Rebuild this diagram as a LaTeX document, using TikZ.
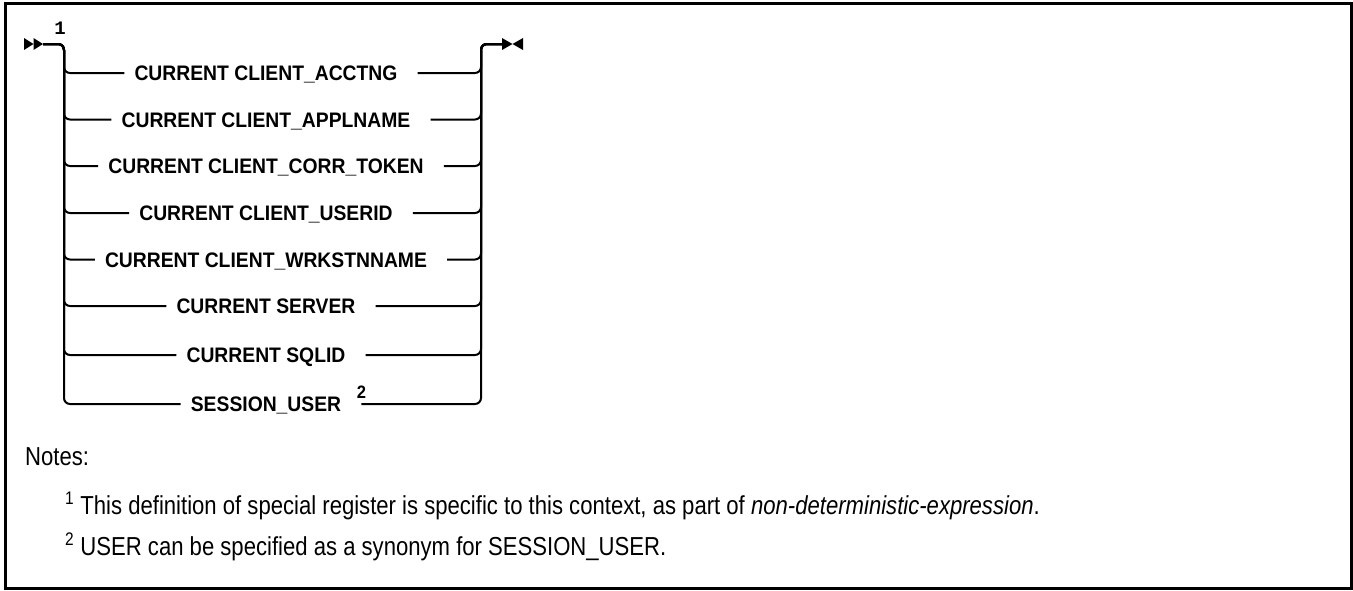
\documentclass[tikz,border=0pt]{standalone}
\usepackage{fontspec}
\setmainfont{Liberation Sans}
\setmonofont{Liberation Mono}
\newfontfamily\synfam[FakeStretch=0.92]{Liberation Sans}
\newfontfamily\notefam[FakeStretch=0.85]{Liberation Sans}
\newcommand\synfont{\synfam\bfseries\fontsize{21}{24}\selectfont}
\newcommand\notefont{\notefam\fontsize{26}{30}\selectfont}
\usepackage{tikz}
\usetikzlibrary{positioning,calc}

\begin{document}
\begin{tikzpicture}[x=1pt,y=-1pt,
  rail/.style={line width=2pt,rounded corners=6pt},
  choix/.style={font=\synfont,inner sep=0pt,text height=15pt,text depth=0pt},
  renvoi/.style={font=\synfam\bfseries\fontsize{18}{18}\selectfont,inner sep=0pt},
  note/.style={font=\notefont,anchor=base west,inner sep=0pt}
]
\useasboundingbox (0,0) rectangle (1353,590);
\draw[line width=3pt] (5.5,3.5) rectangle (1351,588.5);
% ---- début et fin du rail ----
\coordinate (debut) at (43,44);
\coordinate (gauche) at (64,44);
\coordinate (droite) at (481,44);
\coordinate (fin) at (502,44);
\fill (24,38) -- (33.5,44) -- (24,50) -- cycle;
\fill (33.5,38) -- (43,44) -- (33.5,50) -- cycle;
\fill (502,38) -- (512.5,44) -- (502,50) -- cycle;
\fill (523,38) -- (512.5,44) -- (523,50) -- cycle;
\node[font=\ttfamily\bfseries\fontsize{19}{19}\selectfont,inner sep=0pt] (renvoiA) at (60,28) {1};
% ---- choix ----
\foreach \y/\nom [count=\i] in {73/{CURRENT CLIENT\_ACCTNG}, 119.5/{CURRENT CLIENT\_APPLNAME},
  166/{CURRENT CLIENT\_CORR\_TOKEN}, 213/{CURRENT CLIENT\_USERID}, 259.5/{CURRENT CLIENT\_WRKSTNNAME},
  306/{CURRENT SERVER}, 355/{CURRENT SQLID}, 404/{SESSION\_USER}}{
  \node[choix] (r\i) at (266,\y) {\nom};
  \draw[rail] (debut) -- (gauche) |- ([xshift=-10pt]r\i.west);
  \draw[rail] ([xshift=20pt]r\i.east) -| (droite) -- (fin);
}
\node[renvoi] (renvoiB) at ([xshift=20pt,yshift=12pt]r8.east) {2};
% ---- notes ----
\node[note] (notes) at (25,465) {Notes:};
\node[note] (note1) at (65,514) {\textsuperscript{1} This definition of special register is specific to this context, as part of \textit{non-deterministic-expression}.};
\node[note] (note2) at (65,555) {\textsuperscript{2} USER can be specified as a synonym for SESSION\_USER.};
\end{tikzpicture}
\end{document}
